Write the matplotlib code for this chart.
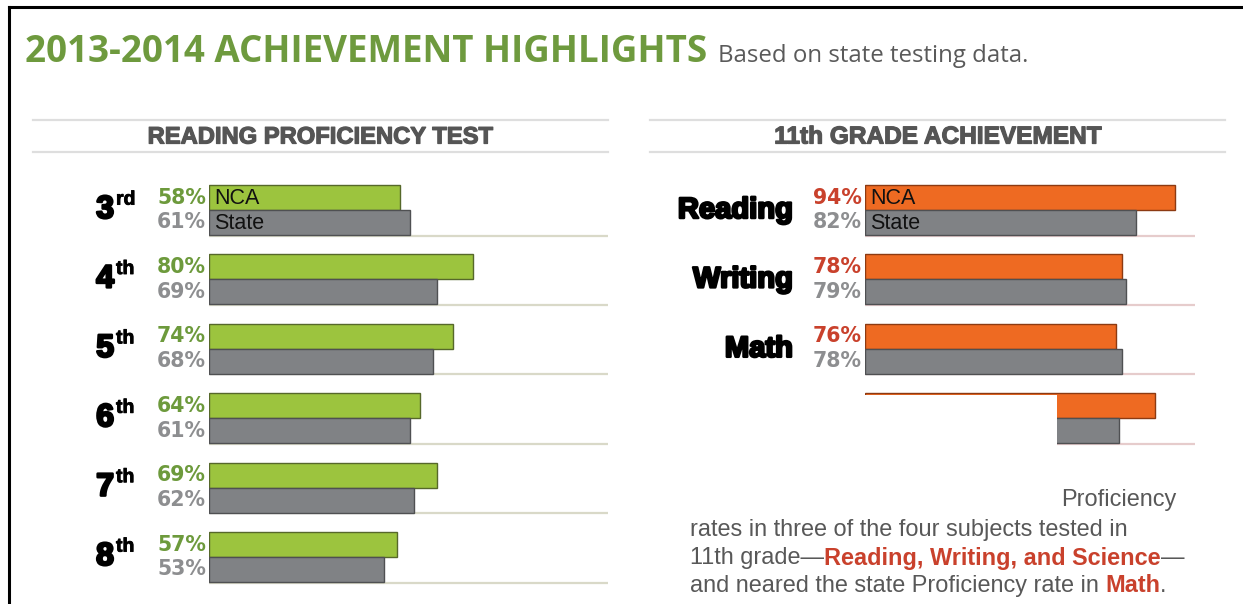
import matplotlib
matplotlib.use("Agg")
import matplotlib.pyplot as plt
import matplotlib.patheffects as pe
from matplotlib.lines import Line2D
from matplotlib.patches import Rectangle

W, H = 1243, 604

# reading proficiency, grades 3-8
grades = ["3", "4", "5", "6", "7", "8"]
grade_suffix = ["rd", "th", "th", "th", "th", "th"]
reading_nca = [58, 80, 74, 64, 69, 57]
reading_state = [61, 69, 68, 61, 62, 53]

# 11th grade achievement (4th group is covered by the text box)
subjects = ["Reading", "Writing", "Math", "Science"]
g11_nca = [94, 78, 76, 88]
g11_state = [82, 79, 78, 77]

GREEN_BAR, GREEN_EDGE, GREEN_TXT = "#9cc43e", "#56682a", "#6d9a3c"
GRAY_BAR, GRAY_EDGE, GRAY_TXT = "#808285", "#4f5052", "#8d8e90"
ORANGE_BAR, ORANGE_EDGE, RED_TXT = "#ee6a22", "#8c3a12", "#c9412c"
HEAD_TXT = "#555555"
NARROW = ["Liberation Sans", "DejaVu Sans"]
SANS = ["Liberation Sans", "DejaVu Sans"]
PCT = ["DejaVu Sans"]

fig = plt.figure(figsize=(W / 100, H / 100), dpi=100)
renderer = fig.canvas.get_renderer()


def fx(px):
    return px / W


def fy(py):
    return 1 - py / H


def hline_px(x0, x1, y, **kw):
    fig.add_artist(Line2D([fx(x0), fx(x1)], [fy(y), fy(y)], transform=fig.transFigure, **kw))


def width_px(t):
    return t.get_window_extent(renderer).width


def heavy(color, w=1.3):
    return [pe.withStroke(linewidth=w, foreground=color)]


# frame (cropped scan)
hline_px(9, W, 7, color="black", lw=2.2)
fig.add_artist(Line2D([fx(9), fx(9)], [fy(7), 0], transform=fig.transFigure, color="black", lw=2.2))

# title
t = fig.text(fx(25), fy(52), "2013-2014 ACHIEVEMENT HIGHLIGHTS", color="#6e9a3e",
             fontsize=28, fontweight="bold", family=["Open Sans", "DejaVu Sans"], va="center")
t.set_fontsize(28 * 682 / width_px(t))
s = fig.text(fx(718), fy(56), "Based on state testing data.", color="#5a5a5a",
             fontsize=17, family=["Open Sans", "DejaVu Sans"], va="center")
s.set_fontsize(17 * 310 / width_px(s))

# panel headers
for x0, x1, label, w in [(33, 608, "READING PROFICIENCY TEST", 348),
                         (650, 1225, "11th GRADE ACHIEVEMENT", 330)]:
    hline_px(x0, x1, 120, color="#dedede", lw=1.6)
    hline_px(x0, x1, 152, color="#dedede", lw=1.6)
    h = fig.text(fx((x0 + x1) / 2), fy(137), label, color=HEAD_TXT, fontsize=17,
                 fontweight="bold", family=NARROW, ha="center", va="center",
                 path_effects=heavy(HEAD_TXT, 0.9))
    h.set_fontsize(17 * (w - 2) / width_px(h))

# group layout: 69.4 px per group, centre of group 0 at y=210 px
GROUP = 69.4
y_top, y_bot = 175, 590
ylim = ((y_bot - 210) / GROUP, (y_top - 210) / GROUP)
BH = 0.36
PX_PER_PCT = 3.3


def panel(x0, x1):
    ax = fig.add_axes([fx(x0), fy(y_bot), fx(x1 - x0), (y_bot - y_top) / H])
    ax.set_xlim(0, (x1 - x0) / PX_PER_PCT)
    ax.set_ylim(*ylim)
    ax.axis("off")
    return ax


def pct_labels(ax, nca, state, nca_color, n):
    for i in range(n):
        ax.annotate(f"{nca[i]}%", (0, i - BH / 2), xytext=(-3, 0), textcoords="offset pixels",
                    ha="right", va="center", color=nca_color, fontsize=14.8,
                    fontweight="bold", family=PCT)
        ax.annotate(f"{state[i]}%", (0, i + BH / 2), xytext=(-3, 0), textcoords="offset pixels",
                    ha="right", va="center", color=GRAY_TXT, fontsize=14.8,
                    fontweight="bold", family=PCT)


def legend_text(ax):
    ax.text(1.6, -BH / 2 + 0.01, "NCA", va="center", fontsize=15.5, family=NARROW,
            color="#111111", zorder=3)
    ax.text(1.6, BH / 2 + 0.01, "State", va="center", fontsize=15.5, family=NARROW,
            color="#111111", zorder=3)


# left panel
axl = panel(209, 608)
for i in range(len(grades)):
    axl.hlines(i + BH + 0.01, 0, axl.get_xlim()[1], color="#d9d9c8", lw=1.6, zorder=1)
axl.barh([i - BH / 2 for i in range(len(grades))], reading_nca, height=BH,
         color=GREEN_BAR, edgecolor=GREEN_EDGE, lw=1, zorder=2)
axl.barh([i + BH / 2 for i in range(len(grades))], reading_state, height=BH,
         color=GRAY_BAR, edgecolor=GRAY_EDGE, lw=1, zorder=2)
pct_labels(axl, reading_nca, reading_state, GREEN_TXT, len(grades))
for i in range(len(grades)):
    axl.annotate(grades[i], (114, i), xycoords=("figure pixels", "data"), ha="right",
                 va="center", fontsize=23, fontweight="bold", family=NARROW, color="black",
                 path_effects=heavy("black", 1.8))
    axl.annotate(grade_suffix[i], (116, i - 0.02), xycoords=("figure pixels", "data"),
                 ha="left", va="bottom", fontsize=14, fontweight="bold", family=NARROW,
                 color="black", path_effects=heavy("black", 0.6))
legend_text(axl)

# right panel
axr = panel(865, 1195)
for i in range(len(subjects)):
    axr.hlines(i + BH + 0.01, 0, axr.get_xlim()[1], color="#e6cccc", lw=1.6, zorder=1)
axr.barh([i - BH / 2 for i in range(len(subjects))], g11_nca, height=BH,
         color=ORANGE_BAR, edgecolor=ORANGE_EDGE, lw=1, zorder=2)
axr.barh([i + BH / 2 for i in range(len(subjects))], g11_state, height=BH,
         color=GRAY_BAR, edgecolor=GRAY_EDGE, lw=1, zorder=2)
pct_labels(axr, g11_nca, g11_state, RED_TXT, 3)
for i in range(3):
    axr.annotate(subjects[i], (793, i), xycoords=("figure pixels", "data"), ha="right",
                 va="center", fontsize=21, fontweight="bold", family=NARROW,
                 color="black", path_effects=heavy("black", 1.8))
legend_text(axr)
# the text box of the original layout hides the left part of the Science bars
axr.add_patch(Rectangle((-1, 3 - BH + 0.03), (1057 - 865) / PX_PER_PCT + 1, BH * 2 + 0.1,
                        facecolor="white", edgecolor="none", zorder=4, clip_on=False))


# caption with mixed styles
CAP = 17


def rich_line(x, y, parts, size):
    for txt, bold in parts:
        t = fig.text(fx(x), fy(y), txt, fontsize=size, va="center",
                     fontweight="bold" if bold else "normal", family=SANS,
                     color=RED_TXT if bold else "#585858")
        x += width_px(t)


probe = fig.text(0, 0, "rates in three of the four subjects tested in", fontsize=CAP, family=SANS)
CAP = CAP * 440 / width_px(probe)
probe.remove()

fig.text(fx(1176), fy(500), "Proficiency", fontsize=CAP, ha="right", va="center",
         family=SANS, color="#585858")
rich_line(690, 530, [("rates in three of the four subjects tested in", False)], CAP)
rich_line(690, 558, [("11th grade\u2014", False), ("Reading, Writing, and Science", True),
                     ("\u2014", False)], CAP)
rich_line(690, 586, [("and neared the state Proficiency rate in ", False), ("Math", True),
                     (".", False)], CAP)

fig.savefig("out.png", dpi=100)
